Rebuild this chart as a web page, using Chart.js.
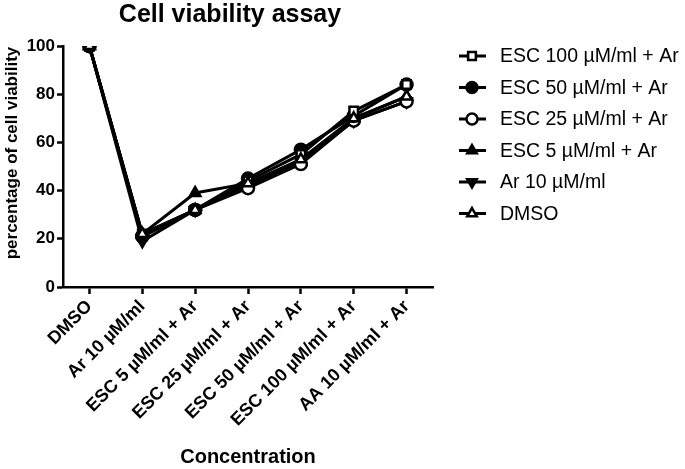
<!DOCTYPE html>
<html>
<head>
<meta charset="utf-8">
<script src="https://cdn.jsdelivr.net/npm/chart.js"></script>
<style>
  html, body { margin: 0; padding: 0; background: #fff; }
  #wrap { width: 685px; height: 469px; position: relative; }
</style>
</head>
<body>
<div id="wrap"><canvas id="cellChart" width="685" height="469"></canvas></div>
<script>
// categories on the x axis
const categories = ['DMSO', 'Ar 10 \u00b5M/ml', 'ESC 5 \u00b5M/ml + Ar', 'ESC 25 \u00b5M/ml + Ar',
  'ESC 50 \u00b5M/ml + Ar', 'ESC 100 \u00b5M/ml + Ar', 'AA 10 \u00b5M/ml + Ar'];

// series values (percentage of cell viability)
const esc100 = [100, 22, 32, 44, 55, 73, 84];
const esc50  = [100, 21, 32, 45, 57, 71, 84];
const esc25  = [100, 21, 32, 41, 51, 69, 77];
const esc5   = [100, 22, 39, 43, 52, 70, 79];
const ar10   = [100, 19, 32, 42, 52, 69, 77];
const dmso   = [100, 22, 32, 43, 53, 70, 79];

const yTicks = [0, 20, 40, 60, 80, 100];

const FONT = 'Arial, "Liberation Sans", Helvetica, sans-serif';

function series(label, data, pointStyle, filled, rotation, order) {
  return {
    label: label,
    data: data,
    order: order || 0,
    borderColor: '#000',
    backgroundColor: '#000',
    borderWidth: 3,
    tension: 0,
    pointStyle: pointStyle,
    pointRotation: rotation || 0,
    pointRadius: 6,
    pointBorderWidth: 2.5,
    pointBorderColor: '#000',
    pointBackgroundColor: filled ? '#000' : '#fff'
  };
}

// title, y title and legend drawn by hand (line + marker + text, like the original)
const titleAndLegend = {
  id: 'titleAndLegend',
  afterDraw(chart) {
    const ctx = chart.ctx;
    ctx.save();
    ctx.fillStyle = '#000';
    ctx.font = 'bold 25px ' + FONT;
    ctx.textAlign = 'center';
    ctx.textBaseline = 'middle';
    ctx.fillText('Cell viability assay', 230, 15);

    ctx.save();
    ctx.translate(12, 153);
    ctx.rotate(-Math.PI / 2);
    ctx.font = 'bold 17px ' + FONT;
    ctx.fillText('percentage of cell viability', 0, 0);
    ctx.restore();

    ctx.font = '19.5px ' + FONT;
    ctx.textAlign = 'left';
    chart.data.datasets.forEach((ds, i) => {
      const y = 56 + i * 31.5;
      ctx.strokeStyle = '#000';
      ctx.lineWidth = 3;
      ctx.beginPath();
      ctx.moveTo(459, y);
      ctx.lineTo(486, y);
      ctx.stroke();
      ctx.lineWidth = 2.5;
      ctx.fillStyle = ds.pointBackgroundColor;
      Chart.helpers.drawPoint(ctx, {
        pointStyle: ds.pointStyle, rotation: ds.pointRotation, radius: 5.5, borderWidth: 2.5
      }, 472, y);
      ctx.fillStyle = '#000';
      ctx.fillText(ds.label, 500, y + 1);
    });
    ctx.restore();
  }
};

new Chart(document.getElementById('cellChart'), {
  type: 'line',
  data: {
    labels: categories,
    datasets: [
      series('ESC 100 \u00b5M/ml + Ar', esc100, 'rect', false),
      series('ESC 50 \u00b5M/ml + Ar', esc50, 'circle', true),
      series('ESC 25 \u00b5M/ml + Ar', esc25, 'circle', false),
      series('ESC 5 \u00b5M/ml + Ar', esc5, 'triangle', true),
      series('Ar 10 \u00b5M/ml', ar10, 'triangle', true, 180),
      series('DMSO', dmso, 'triangle', false, 0, -1)
    ]
  },
  options: {
    responsive: false,
    animation: false,
    layout: { padding: { top: 46, right: 252, left: 0, bottom: 0 } },
    plugins: {
      legend: { display: false },
      title: { display: false },
      tooltip: { enabled: false }
    },
    scales: {
      x: {
        offset: true,
        grid: { drawOnChartArea: false, color: '#000', tickLength: 7, tickWidth: 2.5 },
        border: { color: '#000', width: 2.5 },
        ticks: {
          color: '#000', minRotation: 45, maxRotation: 45, padding: 2,
          font: { family: FONT, size: 18, weight: 'bold' }
        },
        title: {
          display: true, text: 'Concentration', color: '#000',
          font: { family: FONT, size: 20, weight: 'bold' },
          padding: { top: 0, bottom: 0 }
        },
        afterFit(scale) { scale.height = 182; }
      },
      y: {
        min: 0, max: 100,
        afterBuildTicks(scale) { scale.ticks = yTicks.map(v => ({ value: v })); },
        grid: { drawOnChartArea: false, color: '#000', tickLength: 6, tickWidth: 2.5 },
        border: { color: '#000', width: 2.5 },
        ticks: {
          color: '#000', padding: 2,
          font: { family: FONT, size: 17, weight: 'bold' }
        },
        title: { display: false },
        afterFit(scale) { scale.width = 63; }
      }
    }
  },
  plugins: [titleAndLegend]
});
</script>
</body>
</html>
